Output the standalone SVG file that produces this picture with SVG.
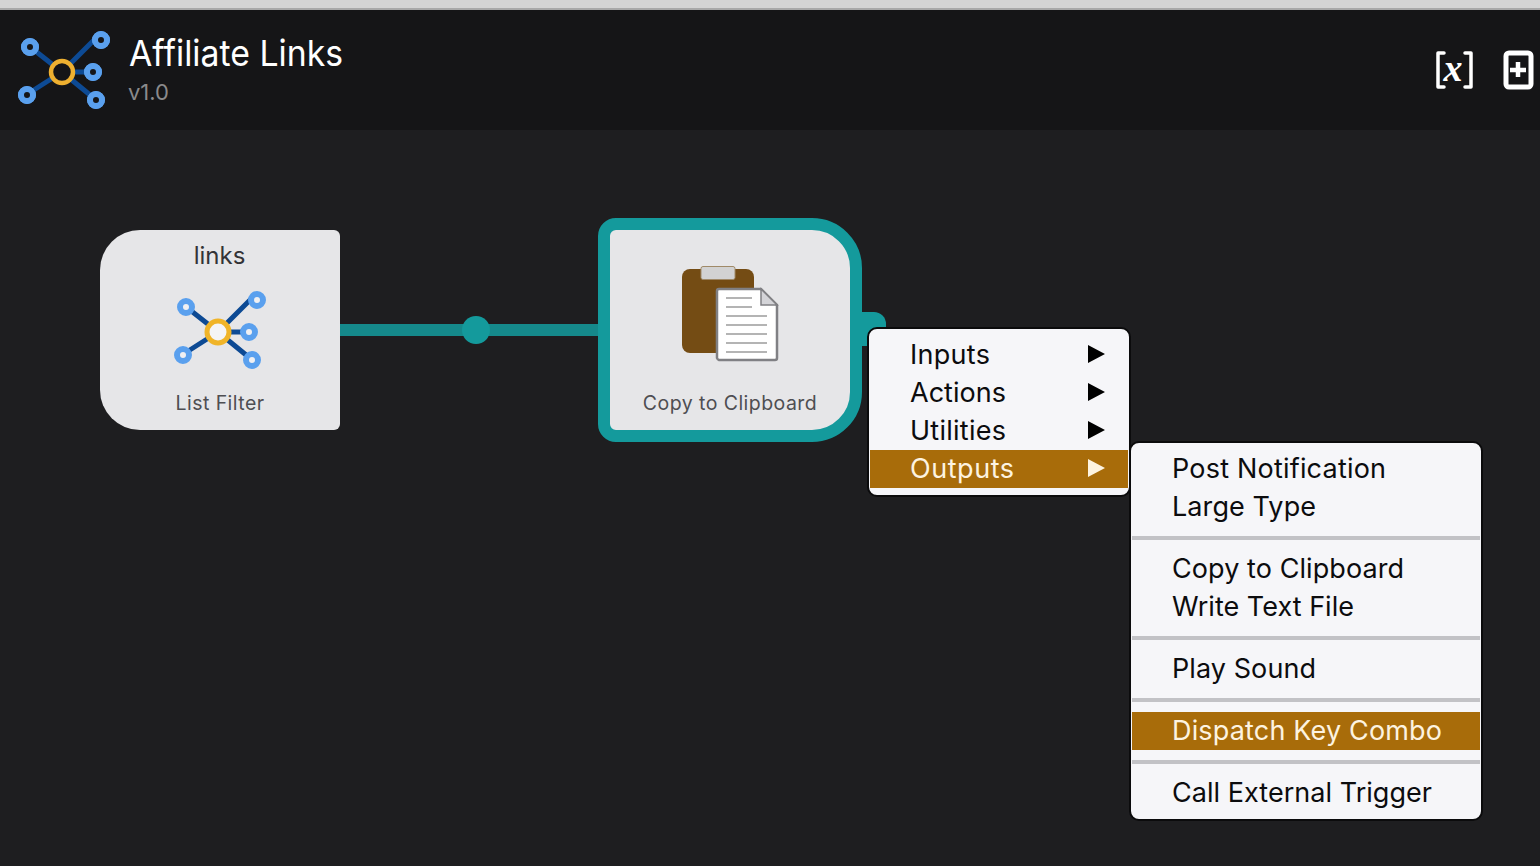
<svg xmlns="http://www.w3.org/2000/svg" width="1540" height="866" viewBox="0 0 1540 866">
<style>
text{font-family:Inter,"Noto Sans","Liberation Sans",sans-serif}
.m{font-size:27px;fill:#0c0c0e}
.h{fill:#fdf3e0}
.nl{font-size:19.500px;fill:#4e4e52;text-anchor:middle;letter-spacing:.45px}
.sep{fill:#c2c2c6}
.hl{fill:#a86c0a}
.menu{fill:#f6f6f9;stroke:#0b0b0c;stroke-width:2}
.doc{stroke:#b4b4b4;stroke-width:2}
</style>
<defs>
<g id="net">
<path d="M-33-26-0 0M34-34-0 0M30 0H0M33 27 0 0M-36 23 0 0" fill="none" stroke="#0d4a94" stroke-width="5"/>
<g fill="#f0f0f2" stroke="#5aa0ee" stroke-width="6">
<circle cx="-32" cy="-25" r="6"/><circle cx="39" cy="-32" r="6"/><circle cx="31" cy="0" r="6"/><circle cx="34" cy="28" r="6"/><circle cx="-35" cy="23" r="6"/>
</g>
</g>
</defs>
<rect width="1540" height="866" fill="#1e1e20"/>
<rect width="1540" height="8" fill="#d4d4d4"/>
<rect y="8" width="1540" height="2" fill="#a8a8a8"/>
<rect y="10" width="1540" height="120" fill="#151517"/>
<g id="header">
<g transform="translate(62,72)">
<use href="#net"/>
<g fill="#151517" stroke="#5aa0ee" stroke-width="6"><circle cx="-32" cy="-25" r="6"/><circle cx="39" cy="-32" r="6"/><circle cx="31" cy="0" r="6"/><circle cx="34" cy="28" r="6"/><circle cx="-35" cy="23" r="6"/></g>
<circle r="11" fill="#151517" stroke="#eeb030" stroke-width="4.500"/>
</g>
<text x="129" y="66" font-size="36" fill="#fff" textLength="214" lengthAdjust="spacingAndGlyphs">Affiliate Links</text>
<text x="128" y="100" font-size="22" fill="#8a8a8c">v1.0</text>
<path d="M1444 53H1438V87H1444M1465 53H1471V87H1465" fill="none" stroke="#fff" stroke-width="3.500" stroke-linejoin="round" stroke-linecap="round"/>
<text x="1453" y="81" font-size="38" font-weight="700" fill="#fff" text-anchor="middle" font-style="italic" style="font-family:'Liberation Serif',serif">x</text>
<rect x="1506" y="53" width="25" height="34" rx="3" fill="none" stroke="#fff" stroke-width="5"/>
<path d="M1518 62V77M1510 70H1526" stroke="#fff" stroke-width="4.500"/>
</g>
<g id="connectors">
<path d="M340 330H598" stroke="#15898b" stroke-width="12"/>
<circle cx="476" cy="330" r="14" fill="#149a9c"/>
<path d="M862 312H874A12 12 0 0 1 886 324V346H862Z" fill="#149a9c"/>
</g>
<g id="node-links">
<path d="M140 230H334A6 6 0 0 1 340 236V424A6 6 0 0 1 334 430H140A40 40 0 0 1 100 390V270A40 40 0 0 1 140 230Z" fill="#e6e6e8"/>
<text x="219.500" y="264" font-size="24" fill="#333336" text-anchor="middle">links</text>
<g transform="translate(218,332)">
<use href="#net"/>
<circle r="11" fill="#f4f4f6" stroke="#f0b428" stroke-width="5"/>
</g>
<text x="220" y="410" class="nl">List Filter</text>
</g>
<g id="node-copy">
<path d="M616 224H812A44 44 0 0 1 856 268V392A44 44 0 0 1 812 436H616A12 12 0 0 1 604 424V236A12 12 0 0 1 616 224Z" fill="#e6e6e8" stroke="#149a9c" stroke-width="12"/>
<rect x="682" y="269" width="72" height="84" rx="8" fill="#744c14"/>
<rect x="701" y="266.500" width="34" height="13" rx="2" fill="#d2d2d2" stroke="#a08a68"/>
<path d="M719 289H761L777 305V358A2 2 0 0 1 775 360H719A3 3 0 0 1 717 358V291A2 2 0 0 1 719 289Z" fill="#fff" stroke="#808084" stroke-width="2.500"/>
<path d="M761 289V305H777Z" fill="#d4d4d8" stroke="#808084" stroke-width="1.500"/>
<path class="doc" d="M726 298H752M726 307H752M726 316H767M726 325H767M726 334H767M726 343H767M726 352H767"/>
<text x="730" y="410" class="nl">Copy to Clipboard</text>
</g>
<g id="menu-main">
<rect class="menu" x="868" y="328" width="262" height="168" rx="9"/>
<rect class="hl" x="870" y="450" width="258" height="38"/>
<text class="m" x="910" y="364" textLength="80">Inputs</text>
<text class="m" x="910" y="402" textLength="96">Actions</text>
<text class="m" x="910" y="440" textLength="96">Utilities</text>
<text class="m h" x="910" y="478" textLength="104">Outputs</text>
<path d="M1088 345 1105 354 1088 363ZM1088 383 1105 392 1088 401ZM1088 421 1105 430 1088 439Z" fill="#000"/>
<path d="M1088 459 1105 468 1088 477Z" fill="#fdf3e0"/>
</g>
<g id="menu-outputs">
<rect class="menu" x="1130" y="442" width="352" height="378" rx="9"/>
<rect class="sep" x="1132" y="536" width="348" height="4"/>
<rect class="sep" x="1132" y="636" width="348" height="4"/>
<rect class="sep" x="1132" y="698" width="348" height="4"/>
<rect class="hl" x="1132" y="712" width="348" height="38"/>
<rect class="sep" x="1132" y="760" width="348" height="4"/>
<text class="m" x="1172" y="478" textLength="214">Post Notification</text>
<text class="m" x="1172" y="516" textLength="144">Large Type</text>
<text class="m" x="1172" y="578" textLength="232">Copy to Clipboard</text>
<text class="m" x="1172" y="616" textLength="182">Write Text File</text>
<text class="m" x="1172" y="678" textLength="144">Play Sound</text>
<text class="m h" x="1172" y="740" textLength="270">Dispatch Key Combo</text>
<text class="m" x="1172" y="802" textLength="260">Call External Trigger</text>
</g>
</svg>
